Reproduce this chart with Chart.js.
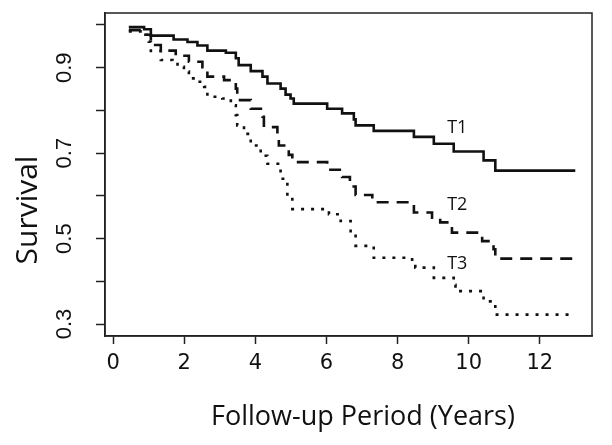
<!DOCTYPE html>
<html>
<head>
<meta charset="utf-8">
<script src="https://cdn.jsdelivr.net/npm/chart.js@4.4.0/dist/chart.umd.min.js"></script>
<style>
    html, body { margin: 0; padding: 0; background: #fff; }
    #wrap { width: 612px; height: 445px; }
</style>
</head>
<body>
<div id="wrap"><canvas id="survivalChart" width="612" height="445"></canvas></div>
<script>
// Kaplan-Meier curves (time in years, survival)
const t1Times = [0.44, 0.87, 1.06, 1.70, 2.09, 2.37, 2.65, 3.17, 3.45, 3.53, 3.87, 4.20, 4.34, 4.71, 4.85, 4.99, 5.08, 6.02, 6.44, 6.77, 6.82, 7.33, 8.46, 9.02, 9.58, 10.42, 10.75, 13.0];
const t1Surv  = [0.995, 0.99, 0.975, 0.966, 0.960, 0.952, 0.940, 0.935, 0.922, 0.906, 0.892, 0.879, 0.863, 0.851, 0.837, 0.828, 0.816, 0.804, 0.793, 0.779, 0.765, 0.752, 0.738, 0.722, 0.704, 0.683, 0.659, 0.659];

const t2Times = [0.44, 0.87, 1.06, 1.34, 1.76, 2.13, 2.51, 2.65, 3.12, 3.45, 3.49, 3.87, 4.20, 4.24, 4.62, 4.66, 4.94, 5.04, 6.02, 6.44, 6.66, 6.82, 7.29, 8.46, 8.97, 9.20, 9.53, 10.38, 10.70, 10.75, 13.0];
const t2Surv  = [0.988, 0.977, 0.953, 0.940, 0.928, 0.914, 0.901, 0.879, 0.871, 0.851, 0.824, 0.804, 0.785, 0.761, 0.743, 0.718, 0.696, 0.679, 0.661, 0.644, 0.622, 0.602, 0.585, 0.561, 0.549, 0.538, 0.514, 0.494, 0.475, 0.453, 0.453];

const t3Times = [0.44, 0.82, 1.00, 1.06, 1.34, 1.67, 1.81, 1.99, 2.13, 2.32, 2.56, 2.65, 3.07, 3.31, 3.45, 3.49, 3.68, 3.87, 4.15, 4.34, 4.71, 4.90, 5.04, 6.07, 6.40, 6.68, 6.82, 7.33, 8.41, 8.50, 9.02, 9.58, 9.63, 10.42, 10.70, 10.75, 13.0];
const t3Surv  = [0.985, 0.977, 0.961, 0.939, 0.918, 0.912, 0.902, 0.891, 0.875, 0.867, 0.855, 0.832, 0.828, 0.812, 0.789, 0.765, 0.745, 0.718, 0.694, 0.675, 0.640, 0.600, 0.569, 0.557, 0.541, 0.510, 0.483, 0.455, 0.444, 0.432, 0.408, 0.392, 0.377, 0.353, 0.345, 0.322, 0.322];

// Axis ticks
const xTickValues = [0, 2, 4, 6, 8, 10, 12];
const yTickValues = [0.3, 0.4, 0.5, 0.6, 0.7, 0.8, 0.9, 1.0];
const yTickLabels = ['0.3', '', '0.5', '', '0.7', '', '0.9', ''];

// Curve names and where they sit (time, survival)
const curveNames = ['T1', 'T2', 'T3'];
const curveLabelTimes = [9.68, 9.68, 9.68];
const curveLabelSurv = [0.76, 0.578, 0.44];

const xTitle = 'Follow-up Period (Years)';
const yTitle = 'Survival';

function toPoints(times, surv) {
    return times.map((t, i) => ({ x: t, y: surv[i] }));
}

// Box round the plot, curve names and axis titles
const framePlugin = {
    id: 'framePlugin',
    afterDraw(chart) {
        const ctx = chart.ctx;
        const area = chart.chartArea;
        const xs = chart.scales.x;
        const ys = chart.scales.y;

        ctx.save();
        ctx.strokeStyle = '#222';
        ctx.lineWidth = 1.5;
        ctx.strokeRect(area.left, area.top, area.right - area.left, area.bottom - area.top);

        // curve names
        ctx.fillStyle = '#111';
        ctx.font = '18px "Open Sans"';
        ctx.textAlign = 'center';
        ctx.textBaseline = 'middle';
        curveNames.forEach((name, i) => {
            ctx.fillText(name, xs.getPixelForValue(curveLabelTimes[i]), ys.getPixelForValue(curveLabelSurv[i]));
        });

        // axis titles
        ctx.font = '27px "Open Sans"';
        ctx.fillText(xTitle, 363, 417);

        ctx.translate(28, 210);
        ctx.rotate(-Math.PI / 2);
        ctx.font = '30px "Open Sans"';
        ctx.fillText(yTitle, 0, 0);
        ctx.restore();
    }
};

function makeDataset(label, times, surv, dash) {
    return {
        label: label,
        data: toPoints(times, surv),
        stepped: true,
        borderColor: '#111',
        borderWidth: 2.6,
        borderDash: dash,
        borderCapStyle: 'butt',
        pointRadius: 0,
        fill: false
    };
}

document.addEventListener('DOMContentLoaded', function() {
    const ctx = document.getElementById('survivalChart').getContext('2d');

    new Chart(ctx, {
        type: 'line',
        data: {
            datasets: [
                makeDataset('T1', t1Times, t1Surv, []),
                makeDataset('T2', t2Times, t2Surv, [12, 8]),
                makeDataset('T3', t3Times, t3Surv, [3, 7])
            ]
        },
        options: {
            responsive: false,
            animation: false,
            layout: { padding: { top: 13, right: 20, left: 0, bottom: 0 } },
            plugins: {
                legend: { display: false },
                tooltip: { enabled: false }
            },
            scales: {
                x: {
                    type: 'linear',
                    min: -0.23,
                    max: 13.47,
                    afterBuildTicks: scale => { scale.ticks = xTickValues.map(v => ({ value: v })); },
                    afterFit: scale => {
                        scale.height = 109;
                        scale.paddingLeft = 0;
                        scale.paddingRight = 0;
                    },
                    grid: { drawOnChartArea: false, drawTicks: true, tickLength: 8, tickColor: '#222', tickWidth: 1.5 },
                    border: { display: true, color: '#222', width: 1.5 },
                    ticks: {
                        color: '#111',
                        font: { family: 'DejaVu Sans', size: 21 },
                        padding: 7,
                        maxRotation: 0,
                        autoSkip: false,
                        callback: value => String(value)
                    }
                },
                y: {
                    type: 'linear',
                    min: 0.272,
                    max: 1.028,
                    afterBuildTicks: scale => { scale.ticks = yTickValues.map(v => ({ value: v })); },
                    afterFit: scale => {
                        scale.width = 105;
                        scale.paddingTop = 0;
                        scale.paddingBottom = 0;
                    },
                    grid: { drawOnChartArea: false, drawTicks: true, tickLength: 9, tickColor: '#222', tickWidth: 1.5 },
                    border: { display: true, color: '#222', width: 1.5 },
                    ticks: {
                        color: '#111',
                        font: { family: 'Liberation Sans', size: 22 },
                        minRotation: 90,
                        maxRotation: 90,
                        crossAlign: 'center',
                        padding: 16,
                        autoSkip: false,
                        callback: value => {
                            const i = yTickValues.findIndex(v => Math.abs(v - value) < 1e-6);
                            return i >= 0 ? yTickLabels[i] : '';
                        }
                    }
                }
            }
        },
        plugins: [framePlugin]
    });
});
</script>
</body>
</html>
